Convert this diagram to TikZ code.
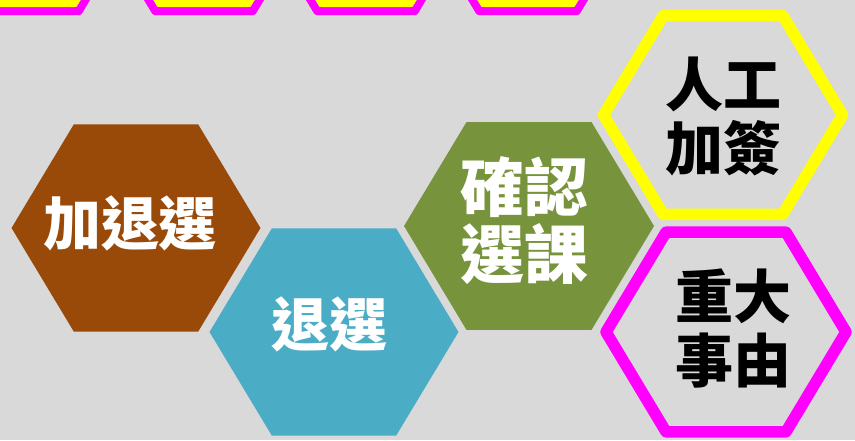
\documentclass[tikz,border=0pt]{standalone}
\usepackage{fontspec}
\usetikzlibrary{shapes.geometric}
\newfontfamily\cjk{Noto Sans CJK TC}
\definecolor{bgc}{HTML}{D9D9D9}
\definecolor{brownc}{HTML}{9A4A08}
\definecolor{bluec}{HTML}{4BACC6}
\definecolor{greenc}{HTML}{77933C}
\definecolor{yellowc}{HTML}{FFFF00}
\definecolor{magentac}{HTML}{FF00FF}
\tikzset{
  hexa/.style={regular polygon, regular polygon sides=6, inner sep=0pt,
    yscale=0.96, transform shape, line join=round},
  solidhex/.style={hexa, fill=#1, minimum size=249pt},
  ringhex/.style={hexa, draw=#1, line width=11.5pt, minimum size=239pt},
  tophex/.style={hexa, draw=#1, line width=8pt},
  word/.style={font=\cjk\bfseries\fontsize{58}{64}\selectfont, align=center, inner sep=0pt},
  bigword/.style={word, font=\cjk\bfseries\fontsize{64}{67}\selectfont},
}
\begin{document}
\begin{tikzpicture}[x=1pt,y=-1pt]
  \clip (0,0) rectangle (855,440);
  \fill[bgc] (0,0) rectangle (855,440);
  % partial hexagons along the top edge
  \node[tophex=magentac, minimum size=195pt] (t1) at (30,-70) {};
  \node[tophex=magentac, minimum size=195pt] (t2) at (204,-70) {};
  \node[tophex=magentac, minimum size=195pt] (t3) at (366,-70) {};
  \node[tophex=magentac, minimum size=195pt] (t4) at (528,-70) {};
  \node[tophex=yellowc, minimum size=176pt] (u1) at (30,-70) {};
  \node[tophex=yellowc, minimum size=176pt] (u2) at (204,-70) {};
  \node[tophex=yellowc, minimum size=176pt] (u3) at (366,-70) {};
  \node[tophex=yellowc, minimum size=176pt] (u4) at (528,-70) {};
  % main hexagons
  \node[solidhex=brownc] (adddrop) at (136,228) {};
  \node[solidhex=bluec] (drop) at (334,332) {};
  \node[solidhex=greenc, minimum size=250pt] (confirm) at (529,226) {};
  \node[ringhex=yellowc] (manual) at (723,115) {};
  \node[ringhex=magentac, minimum size=240pt] (major) at (726,332) {};
  % texts
  \node[word, white] (adddroptxt) at (130,223) {加退選};
  \node[word, white] (droptxt) at (329,324) {退選};
  \node[bigword, white] (confirmtxt) at (524,221) {確認\\選課};
  \node[word] (manualtxt) at (723,116) {人工\\加簽};
  \node[word] (majortxt) at (733,328) {重大\\事由};
\end{tikzpicture}
\end{document}
